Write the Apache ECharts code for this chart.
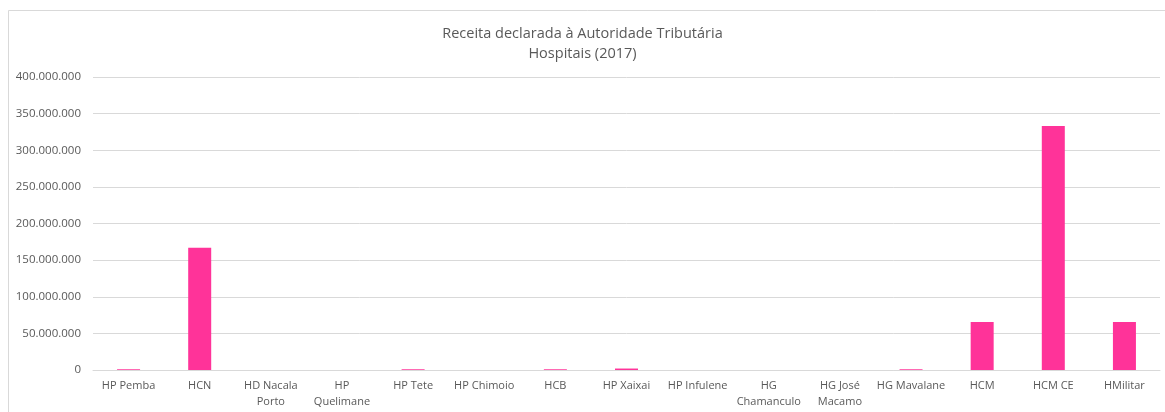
<!DOCTYPE html>
<html>
<head>
<meta charset="utf-8">
<script src="https://cdn.jsdelivr.net/npm/echarts@6/dist/echarts.min.js"></script>
<style>
html,body{margin:0;padding:0;background:#fff;}
#c{width:1165px;height:412px;}
</style>
</head>
<body>
<div id="c"></div>
<script>
const categories = ["HP Pemba","HCN","HD Nacala\nPorto","HP\nQuelimane","HP Tete","HP Chimoio","HCB","HP Xaixai","HP Infulene","HG\nChamanculo","HG José\nMacamo","HG Mavalane","HCM","HCM CE","HMilitar"];
const receita = [1000000,167000000,0,0,1000000,0,1000000,2000000,0,0,0,1000000,65500000,333000000,65500000];
const titleLines = ["Receita declarada à Autoridade Tributária","Hospitais (2017)"];

const chart = echarts.init(document.getElementById('c'));
const font = "Open Sans, Liberation Sans, sans-serif";
chart.setOption({
  animation:false,
  backgroundColor:'#fff',
  title:{
    text:titleLines.join('\n'),
    left:'center', top:19,
    textStyle:{fontFamily:font,fontSize:14.5,fontWeight:'normal',color:'#595959',lineHeight:20}
  },
  graphic:[{type:'rect',shape:{x:8.5,y:10.5,width:1170,height:410},style:{fill:'none',stroke:'#d9d9d9',lineWidth:1},silent:true}],
  grid:{left:93,right:5,top:77,bottom:42,containLabel:false},
  xAxis:{
    type:'category',data:categories,
    axisLine:{lineStyle:{color:'#d9d9d9'}},
    axisTick:{show:false},
    axisLabel:{fontFamily:font,fontSize:11,color:'#595959',interval:0,margin:8,lineHeight:16}
  },
  yAxis:{
    type:'value',min:0,max:400000000,interval:50000000,
    axisLine:{show:false},axisTick:{show:false},
    splitLine:{lineStyle:{color:'#d9d9d9'}},
    axisLabel:{fontFamily:font,fontSize:11.5,color:'#595959',margin:12,
      formatter:v=>v.toString().replace(/\B(?=(\d{3})+(?!\d))/g,'.')}
  },
  series:[{type:'bar',data:receita,barWidth:23,
    itemStyle:{color:'#FF3399'}}]
});
</script>
</body>
</html>
